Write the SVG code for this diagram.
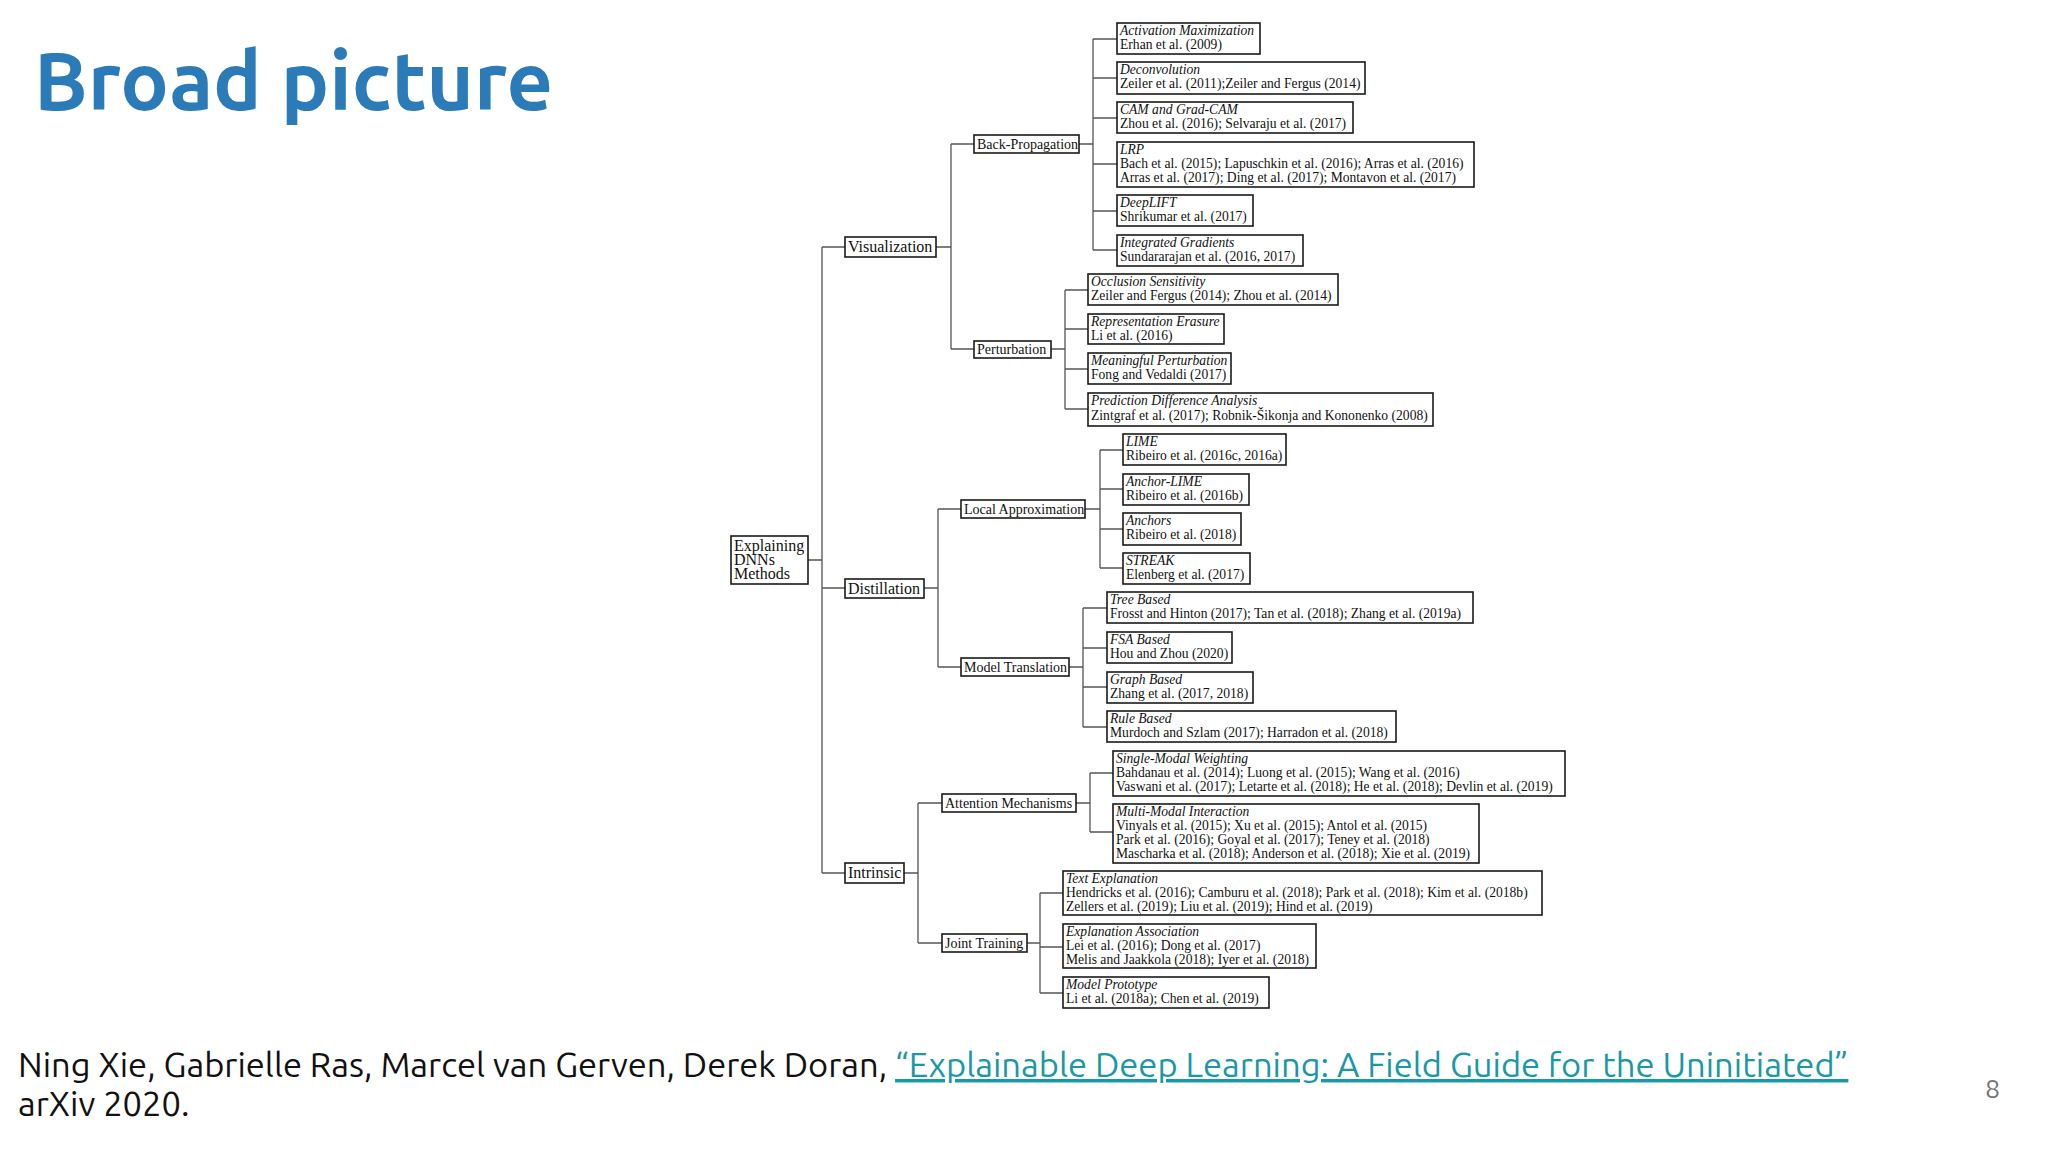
<svg xmlns="http://www.w3.org/2000/svg" width="2048" height="1152" viewBox="0 0 2048 1152">
<style>
.b{fill:#fff;stroke:#1a1a1a;stroke-width:1.6}
.t{font-family:"Liberation Serif",serif;font-size:13.6px;fill:#111}
.i{font-style:italic}
.n{font-family:"Liberation Serif",serif;font-size:14px;fill:#111}
.m{font-family:"Liberation Serif",serif;font-size:16px;fill:#111}
.c{fill:none;stroke:#555;stroke-width:1.3}
</style>
<rect width="2048" height="1152" fill="#fff"/>
<text x="34" y="110" font-family="Ubuntu,'Open Sans',sans-serif" font-weight="bold" font-size="81" fill="#2b7bb9">Broad picture</text>

<g id="connectors" class="c">
<path d="M808 560H822M822 247V873M822 247H845M822 588H845M822 873H845"/>
<path d="M936 247H951M951 144V349M951 144H974M951 349H974"/>
<path d="M1079 144H1093M1093 39V250M1093 39H1117M1093 78H1117M1093 118H1117M1093 164H1117M1093 211H1117M1093 250H1117"/>
<path d="M1051 349H1065M1065 290V409M1065 290H1088M1065 329H1088M1065 369H1088M1065 409H1088"/>
<path d="M924 588H938M938 509V667M938 509H961M938 667H961"/>
<path d="M1085 509H1100M1100 450V568M1100 450H1123M1100 489H1123M1100 529H1123M1100 568H1123"/>
<path d="M1069 667H1083M1083 608V727M1083 608H1107M1083 648H1107M1083 687H1107M1083 727H1107"/>
<path d="M904 873H918M918 803V943M918 803H942M918 943H942"/>
<path d="M1076 803H1090M1090 773V832M1090 773H1113M1090 832H1113"/>
<path d="M1027 943H1040M1040 893V993M1040 893H1063M1040 947H1063M1040 993H1063"/>
</g>

<g id="root"><rect class="b" x="731" y="536" width="77" height="48"/><text class="m" x="734" y="551">Explaining</text><text class="m" x="734" y="565">DNNs</text><text class="m" x="734" y="579">Methods</text></g>
<g id="vis"><rect class="b" x="845" y="237" width="91" height="20"/><text class="m" x="848" y="252">Visualization</text></g>
<g id="dist"><rect class="b" x="845" y="579" width="79" height="19"/><text class="m" x="848" y="594">Distillation</text></g>
<g id="intr"><rect class="b" x="845" y="863" width="59" height="20"/><text class="m" x="848" y="878">Intrinsic</text></g>

<g id="bp"><rect class="b" x="974" y="135" width="105" height="18"/><text class="n" x="977" y="149">Back-Propagation</text></g>
<g id="pert"><rect class="b" x="974" y="341" width="77" height="17"/><text class="n" x="977" y="354">Perturbation</text></g>
<g id="la"><rect class="b" x="961" y="500" width="124" height="18"/><text class="n" x="964" y="514">Local Approximation</text></g>
<g id="mt"><rect class="b" x="961" y="658" width="108" height="18"/><text class="n" x="964" y="672">Model Translation</text></g>
<g id="am"><rect class="b" x="942" y="794" width="134" height="18"/><text class="n" x="945" y="808">Attention Mechanisms</text></g>
<g id="jt"><rect class="b" x="942" y="934" width="85" height="18"/><text class="n" x="945" y="948">Joint Training</text></g>

<g id="actmax"><rect class="b" x="1117" y="23" width="143" height="31"/><text class="t i" x="1120" y="35">Activation Maximization</text><text class="t" x="1120" y="49">Erhan et al. (2009)</text></g>
<g id="deconv"><rect class="b" x="1117" y="62" width="248" height="32"/><text class="t i" x="1120" y="74">Deconvolution</text><text class="t" x="1120" y="88">Zeiler et al. (2011);Zeiler and Fergus (2014)</text></g>
<g id="cam"><rect class="b" x="1117" y="102" width="236" height="31"/><text class="t i" x="1120" y="114">CAM and Grad-CAM</text><text class="t" x="1120" y="128">Zhou et al. (2016); Selvaraju et al. (2017)</text></g>
<g id="lrp"><rect class="b" x="1117" y="142" width="357" height="45"/><text class="t i" x="1120" y="154">LRP</text><text class="t" x="1120" y="168">Bach et al. (2015); Lapuschkin et al. (2016); Arras et al. (2016)</text><text class="t" x="1120" y="182">Arras et al. (2017); Ding et al. (2017); Montavon et al. (2017)</text></g>
<g id="deeplift"><rect class="b" x="1117" y="195" width="136" height="31"/><text class="t i" x="1120" y="207">DeepLIFT</text><text class="t" x="1120" y="221">Shrikumar et al. (2017)</text></g>
<g id="ig"><rect class="b" x="1117" y="235" width="186" height="31"/><text class="t i" x="1120" y="247">Integrated Gradients</text><text class="t" x="1120" y="261">Sundararajan et al. (2016, 2017)</text></g>

<g id="occ"><rect class="b" x="1088" y="274" width="250" height="31"/><text class="t i" x="1091" y="286">Occlusion Sensitivity</text><text class="t" x="1091" y="300">Zeiler and Fergus (2014); Zhou et al. (2014)</text></g>
<g id="rep"><rect class="b" x="1088" y="314" width="136" height="30"/><text class="t i" x="1091" y="326">Representation Erasure</text><text class="t" x="1091" y="340">Li et al. (2016)</text></g>
<g id="mp"><rect class="b" x="1088" y="353" width="143" height="31"/><text class="t i" x="1091" y="365">Meaningful Perturbation</text><text class="t" x="1091" y="379">Fong and Vedaldi (2017)</text></g>
<g id="pda"><rect class="b" x="1088" y="393" width="345" height="33"/><text class="t i" x="1091" y="405">Prediction Difference Analysis</text><text class="t" x="1091" y="420">Zintgraf et al. (2017); Robnik-Šikonja and Kononenko (2008)</text></g>

<g id="lime"><rect class="b" x="1123" y="434" width="163" height="31"/><text class="t i" x="1126" y="446">LIME</text><text class="t" x="1126" y="460">Ribeiro et al. (2016c, 2016a)</text></g>
<g id="alime"><rect class="b" x="1123" y="474" width="126" height="31"/><text class="t i" x="1126" y="486">Anchor-LIME</text><text class="t" x="1126" y="500">Ribeiro et al. (2016b)</text></g>
<g id="anchors"><rect class="b" x="1123" y="513" width="118" height="32"/><text class="t i" x="1126" y="525">Anchors</text><text class="t" x="1126" y="539">Ribeiro et al. (2018)</text></g>
<g id="streak"><rect class="b" x="1123" y="553" width="127" height="31"/><text class="t i" x="1126" y="565">STREAK</text><text class="t" x="1126" y="579">Elenberg et al. (2017)</text></g>

<g id="tree"><rect class="b" x="1107" y="592" width="366" height="31"/><text class="t i" x="1110" y="604">Tree Based</text><text class="t" x="1110" y="618">Frosst and Hinton (2017); Tan et al. (2018); Zhang et al. (2019a)</text></g>
<g id="fsa"><rect class="b" x="1107" y="632" width="125" height="31"/><text class="t i" x="1110" y="644">FSA Based</text><text class="t" x="1110" y="658">Hou and Zhou (2020)</text></g>
<g id="graph"><rect class="b" x="1107" y="672" width="146" height="31"/><text class="t i" x="1110" y="684">Graph Based</text><text class="t" x="1110" y="698">Zhang et al. (2017, 2018)</text></g>
<g id="rule"><rect class="b" x="1107" y="711" width="289" height="31"/><text class="t i" x="1110" y="723">Rule Based</text><text class="t" x="1110" y="737">Murdoch and Szlam (2017); Harradon et al. (2018)</text></g>

<g id="smw"><rect class="b" x="1113" y="751" width="452" height="45"/><text class="t i" x="1116" y="763">Single-Modal Weighting</text><text class="t" x="1116" y="777">Bahdanau et al. (2014); Luong et al. (2015); Wang et al. (2016)</text><text class="t" x="1116" y="791">Vaswani et al. (2017); Letarte et al. (2018); He et al. (2018); Devlin et al. (2019)</text></g>
<g id="mmi"><rect class="b" x="1113" y="804" width="366" height="59"/><text class="t i" x="1116" y="816">Multi-Modal Interaction</text><text class="t" x="1116" y="830">Vinyals et al. (2015); Xu et al. (2015); Antol et al. (2015)</text><text class="t" x="1116" y="844">Park et al. (2016); Goyal et al. (2017); Teney et al. (2018)</text><text class="t" x="1116" y="858">Mascharka et al. (2018); Anderson et al. (2018); Xie et al. (2019)</text></g>

<g id="te"><rect class="b" x="1063" y="871" width="479" height="44"/><text class="t i" x="1066" y="883">Text Explanation</text><text class="t" x="1066" y="897">Hendricks et al. (2016); Camburu et al. (2018); Park et al. (2018); Kim et al. (2018b)</text><text class="t" x="1066" y="911">Zellers et al. (2019); Liu et al. (2019); Hind et al. (2019)</text></g>
<g id="ea"><rect class="b" x="1063" y="924" width="253" height="44"/><text class="t i" x="1066" y="936">Explanation Association</text><text class="t" x="1066" y="950">Lei et al. (2016); Dong et al. (2017)</text><text class="t" x="1066" y="964">Melis and Jaakkola (2018); Iyer et al. (2018)</text></g>
<g id="proto"><rect class="b" x="1063" y="977" width="206" height="31"/><text class="t i" x="1066" y="989">Model Prototype</text><text class="t" x="1066" y="1003">Li et al. (2018a); Chen et al. (2019)</text></g>

<text font-family="Ubuntu,'Open Sans',sans-serif" font-size="34.5" fill="#111" x="18" y="1077">Ning Xie, Gabrielle Ras, Marcel van Gerven, Derek Doran, <tspan fill="#1a98a5" text-decoration="underline">“Explainable Deep Learning: A Field Guide for the Uninitiated”</tspan></text>
<text font-family="Ubuntu,'Open Sans',sans-serif" font-size="34.5" fill="#111" x="18" y="1116">arXiv 2020.</text>
<text font-family="Ubuntu,'Open Sans',sans-serif" font-size="27" fill="#777" x="1985" y="1098">8</text>
</svg>
